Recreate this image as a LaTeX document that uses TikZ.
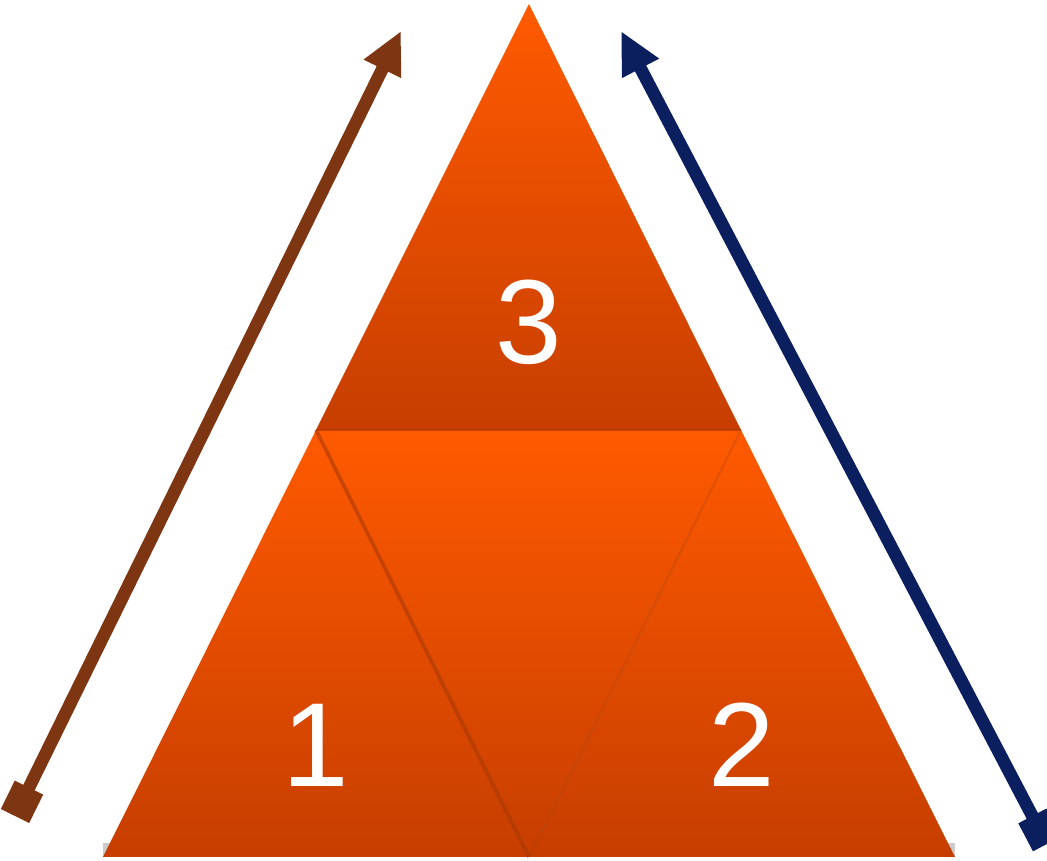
\documentclass[tikz,border=0pt]{standalone}
\usepackage{fontspec}
\setmainfont{Liberation Sans}
\usetikzlibrary{arrows.meta}
\definecolor{orangetop}{HTML}{FF5A00}
\definecolor{orangebot}{HTML}{C63E00}
\definecolor{arrbrown}{HTML}{7D3512}
\definecolor{arrblue}{HTML}{0B1F5E}
\tikzset{
  piece/.style={top color=orangetop, bottom color=orangebot, draw=none},
  seam/.style={draw=orangebot!85!black, line width=0.5pt, opacity=0.6},
  digit/.style={text=white, font=\fontsize{34}{34}\selectfont, inner sep=0pt},
  sidearrow/.style={line width=3.6pt,
    {Square[length=9pt,width=9pt]}-{Triangle[length=12pt,width=11pt]}}
}
\begin{document}
\begin{tikzpicture}[x=0.01cm,y=-0.01cm]
\useasboundingbox (0,0) rectangle (1047,861);
% corners of the big triangle and the mid points
\coordinate (top) at (529,4);
\coordinate (bl) at (103,857);
\coordinate (br) at (955,857);
\coordinate (ml) at (316,430);
\coordinate (mr) at (741,430);
\coordinate (mb) at (529,857);
% base shadow
\fill[black!20] (bl) rectangle ([yshift=4]br);
% the four pieces
\path[piece] (ml) -- (top) -- (mr) -- cycle;
\path[piece] (bl) -- (ml) -- (mb) -- cycle;
\path[piece] (mb) -- (mr) -- (br) -- cycle;
\path[piece] (ml) -- (mr) -- (mb) -- cycle;
\draw[seam] (ml) -- (mr);
\draw[seam, line width=1pt] (ml) -- (mb);
\draw[seam, opacity=0.35] (mb) -- (mr);
% labels
\node[digit] (n3) at (529,322) {3};
\node[digit] (n1) at (316,745) {1};
\node[digit] (n2) at (742,745) {2};
% side arrows
\coordinate (a1s) at (15,816);
\coordinate (a1e) at (401,31);
\coordinate (a2s) at (1047,844);
\coordinate (a2e) at (621,31);
\draw[sidearrow, arrbrown] (a1s) -- (a1e);
\draw[sidearrow, arrblue] (a2s) -- (a2e);
\end{tikzpicture}
\end{document}
